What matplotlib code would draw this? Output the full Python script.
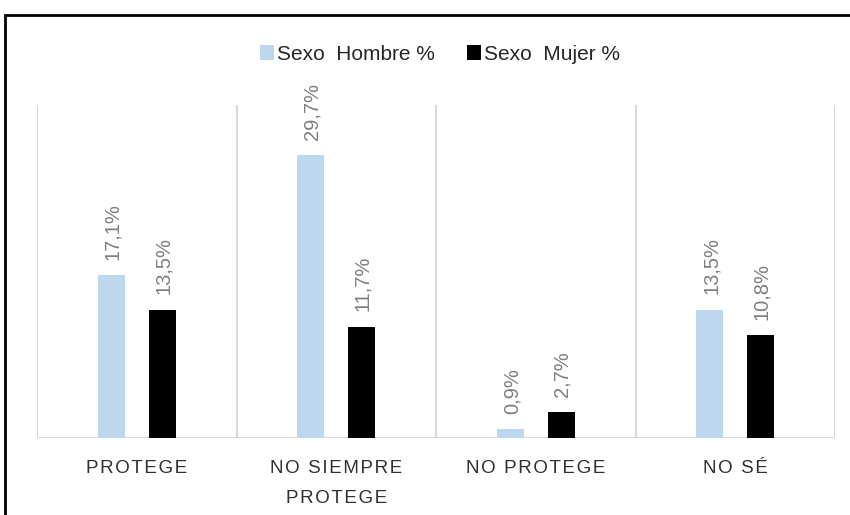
import matplotlib
matplotlib.use('Agg')
import matplotlib.pyplot as plt
from matplotlib.patches import Rectangle
import numpy as np

categorias = ['PROTEGE', 'NO SIEMPRE\nPROTEGE', 'NO PROTEGE', 'NO SÉ']
hombre = [17.1, 29.7, 0.9, 13.5]
mujer = [13.5, 11.7, 2.7, 10.8]
series = ['Sexo  Hombre %', 'Sexo  Mujer %']

plt.rcParams['font.family'] = ['Liberation Sans', 'DejaVu Sans']

fig = plt.figure(figsize=(8.5, 5.15), dpi=100)
ax = fig.add_axes([37 / 850, 1 - 438 / 515, (835 - 37) / 850, (438 - 105) / 515])

x = np.arange(len(categorias))
w = 0.135
off = 0.127
b1 = ax.bar(x - off, hombre, w, color='#bdd7ee', label=series[0])
b2 = ax.bar(x + off, mujer, w, color='#000000', label=series[1])

def espaciar(s):
    # letter spacing for the category labels
    return '\n'.join('\u200a'.join(linea) for linea in s.split('\n'))

for barras, vals in ((b1, hombre), (b2, mujer)):
    for r, v in zip(barras, vals):
        ax.annotate(f'{v:.1f}%'.replace('.', ','),
                    (r.get_x() + r.get_width() / 2, v),
                    xytext=(1, 11), textcoords='offset points',
                    rotation=90, ha='center', va='bottom',
                    fontsize=14.5, color='#7f7f7f')

ax.set_xlim(-0.5, len(categorias) - 0.5)
ax.set_ylim(0, 35)
for xv in np.arange(-0.5, len(categorias), 1.0):
    ax.axvline(xv, color='#d9d9d9', lw=1.5, zorder=0)
ax.axhline(0, color='#d9d9d9', lw=1.5, zorder=0)

for s in ax.spines.values():
    s.set_visible(False)
ax.set_yticks([])
ax.set_xticks(x)
ax.set_xticklabels([espaciar(c) for c in categorias], fontsize=13.5,
                   color='#303030', linespacing=1.95)
ax.tick_params(axis='x', length=0, pad=16)

fig.legend(handles=[b1, b2], labels=series, loc='center',
           bbox_to_anchor=(440 / 850, 1 - 54 / 515), ncol=2, frameon=False,
           fontsize=15, handlelength=0.7, handleheight=0.7, handletextpad=0.15,
           columnspacing=1.5, labelcolor='#262626')

# marco exterior
fig.patches.append(Rectangle((5 / 850, -0.05), 1.0, 1 - 15 / 515 + 0.05,
                             transform=fig.transFigure, fill=False,
                             edgecolor='black', lw=2))

fig.savefig('out.png', dpi=100)
